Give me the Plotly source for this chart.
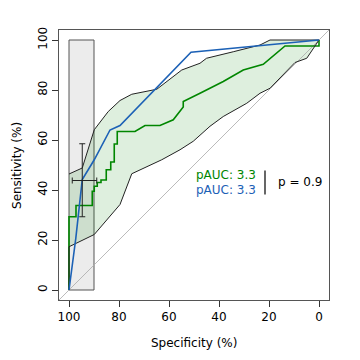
import plotly.graph_objects as go

# ---- data (specificity %, sensitivity %) ----
green_spec = [100, 100, 97.2, 97.2, 90.7, 90.7, 89.9, 89.9, 88.7, 88.7, 87.2, 87.2, 85.1, 85.1,
              83.3, 83.3, 81.9, 81.9, 80.7, 80.7, 73.6, 69.6, 63.6, 58.3, 54.3, 54.3,
              47.6, 38.3, 30.3, 22.3, 13.6, 0, 0]
green_sens = [0, 29.3, 29.3, 33.8, 33.8, 39.5, 39.5, 41.5, 41.5, 43.0, 43.0, 44.0, 44.0, 48.1,
              48.1, 51.2, 51.2, 58.4, 58.4, 63.4, 63.4, 65.8, 65.8, 68.1, 73.2, 75.4,
              78.7, 83.4, 88.0, 90.3, 97.6, 97.6, 100]

blue_spec = [100, 97.3, 94.7, 89.9, 83.6, 79.6, 51.2, 0]
blue_sens = [0, 20.5, 44.2, 52.1, 64.0, 65.8, 95.1, 100]

ci_up_spec = [100, 100, 94.7, 89.9, 84.3, 79.6, 74.9, 64.9, 54.9, 47.6, 45.0, 34.3, 23.6, 19.6, 0]
ci_up_sens = [0, 46.4, 48.8, 64.1, 71.4, 75.8, 78.3, 80.3, 88.0, 90.7, 92.7, 95.3, 98.0, 100, 100]
ci_lo_spec = [100, 100, 89.9, 79.6, 74.9, 62.9, 55.6, 50.3, 43.6, 38.3, 28.9, 23.6, 19.6, 15.6, 9.6, 4.9, 0]
ci_lo_sens = [0, 17.3, 22.2, 34.2, 46.5, 52.1, 56.1, 59.5, 65.5, 69.4, 74.7, 78.7, 80.7, 84.7, 91.0, 92.7, 100]

pauc_spec = [100, 90]           # partial AUC region (specificity)
diag_spec = [104, -4]
diag_sens = [-4, 104]

ci_point = (94.7, 43.8)
ci_sp = (88.9, 98.7)
ci_se = (29.3, 58.5)

x_ticks = [100, 80, 60, 40, 20, 0]
y_ticks = [0, 20, 40, 60, 80, 100]

GREEN = "#008600"
BLUE = "#1c61b6"
FONT = "DejaVu Sans"

fig = go.Figure()

# partial AUC box
fig.add_trace(go.Scatter(
    x=[pauc_spec[0], pauc_spec[1], pauc_spec[1], pauc_spec[0], pauc_spec[0]],
    y=[0, 0, 100, 100, 0], mode="lines", fill="toself",
    fillcolor="#ececec", line=dict(color="#555555", width=1), hoverinfo="skip"))

# CI band fill
fig.add_trace(go.Scatter(
    x=ci_up_spec + ci_lo_spec[::-1], y=ci_up_sens + ci_lo_sens[::-1],
    mode="lines", fill="toself", fillcolor="rgba(0,134,0,0.13)",
    line=dict(width=0), hoverinfo="skip"))

# diagonal
fig.add_trace(go.Scatter(x=diag_spec, y=diag_sens, mode="lines",
                         line=dict(color="#aaaaaa", width=0.8), hoverinfo="skip"))

# CI outlines
fig.add_trace(go.Scatter(x=ci_up_spec[1:], y=ci_up_sens[1:], mode="lines",
                         line=dict(color="#222222", width=1), hoverinfo="skip"))

# green ROC
fig.add_trace(go.Scatter(x=green_spec, y=green_sens, mode="lines",
                         line=dict(color=GREEN, width=1.6), hoverinfo="skip"))
fig.add_trace(go.Scatter(x=ci_lo_spec, y=ci_lo_sens, mode="lines",
                         line=dict(color="#222222", width=1), hoverinfo="skip"))

# blue ROC
fig.add_trace(go.Scatter(x=blue_spec, y=blue_sens, mode="lines",
                         line=dict(color=BLUE, width=1.6), hoverinfo="skip"))

# CI cross
fig.add_trace(go.Scatter(
    x=[ci_point[0]], y=[ci_point[1]], mode="markers",
    marker=dict(size=1, color="rgba(0,0,0,0)"),
    error_x=dict(type="data", symmetric=False, array=[ci_sp[1] - ci_point[0]],
                 arrayminus=[ci_point[0] - ci_sp[0]], color="#222222", thickness=1, width=3),
    error_y=dict(type="data", symmetric=False, array=[ci_se[1] - ci_point[1]],
                 arrayminus=[ci_point[1] - ci_se[0]], color="#222222", thickness=1, width=3),
    hoverinfo="skip"))

# vertical separator line for test text
fig.add_trace(go.Scatter(x=[21.6, 21.6], y=[47.8, 38.2], mode="lines",
                         line=dict(color="black", width=1.2), hoverinfo="skip"))

fig.add_annotation(x=50, y=45.9, text="pAUC: 3.3", showarrow=False, xanchor="left",
                   yanchor="middle", font=dict(color=GREEN, size=12, family=FONT))
fig.add_annotation(x=50, y=39.9, text="pAUC: 3.3", showarrow=False, xanchor="left",
                   yanchor="middle", font=dict(color=BLUE, size=12, family=FONT))
fig.add_annotation(x=17.3, y=43.2, text="p = 0.9", showarrow=False, xanchor="left",
                   yanchor="middle", font=dict(color="black", size=12, family=FONT))

# axis titles (placed like R's mtext)
fig.add_annotation(x=0.5, y=-0.158, xref="paper", yref="paper", text="Specificity (%)",
                   showarrow=False, xanchor="center", yanchor="middle",
                   font=dict(size=12, family=FONT, color="black"))
fig.add_annotation(x=-0.1556, y=0.5, xref="paper", yref="paper", text="Sensitivity (%)",
                   showarrow=False, xanchor="center", yanchor="middle", textangle=-90,
                   font=dict(size=12, family=FONT, color="black"))

fig.update_layout(
    width=360, height=360, showlegend=False,
    margin=dict(l=51, r=39, t=22, b=68, autoexpand=False),
    plot_bgcolor="white", paper_bgcolor="white",
    font=dict(family=FONT, size=12, color="black"),
    xaxis=dict(range=[104, -4], tickvals=x_ticks, ticktext=[str(v) for v in x_ticks],
               showgrid=False, zeroline=False, showline=True, mirror=True,
               linecolor="#555555", linewidth=1, ticks="outside", ticklen=6,
               tickcolor="#333333", automargin=False, fixedrange=True),
    yaxis=dict(range=[-4, 104], tickvals=y_ticks, ticktext=[str(v) for v in y_ticks],
               showgrid=False, zeroline=False, showline=True, mirror=True,
               linecolor="#555555", linewidth=1, ticks="outside", ticklen=6,
               tickcolor="#333333", tickangle=-90, automargin=False, fixedrange=True),
)

fig.write_html("out.html")
